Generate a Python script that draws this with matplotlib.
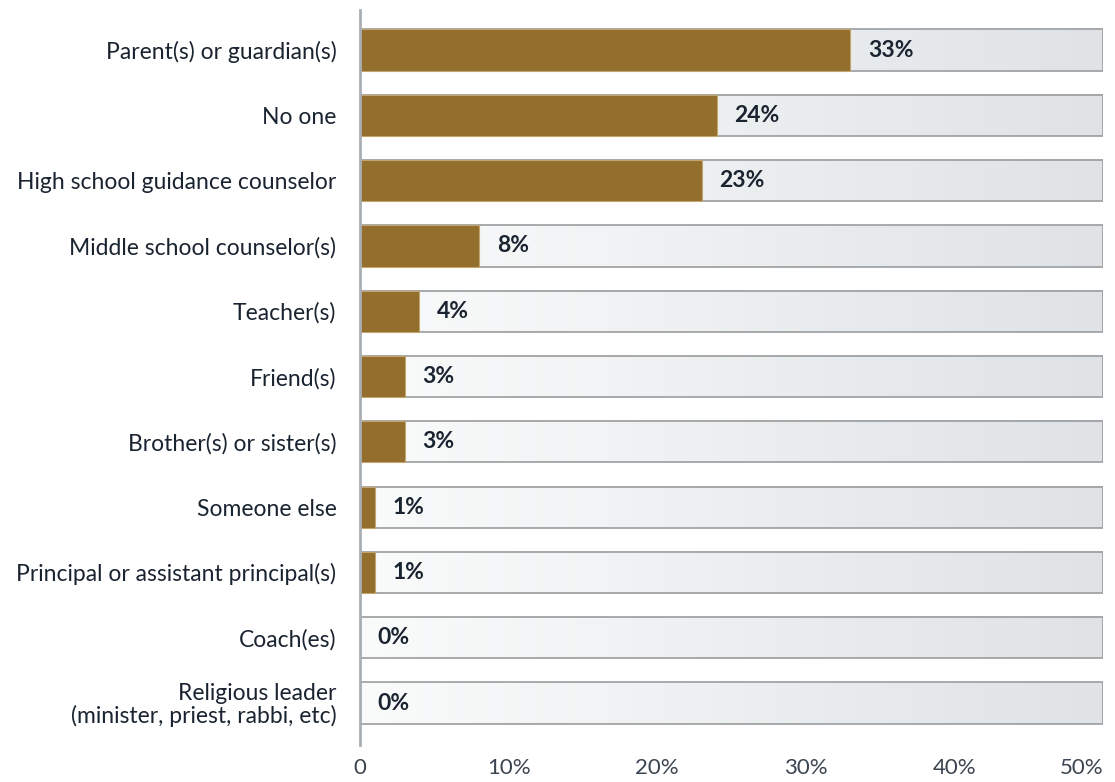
import numpy as np
import matplotlib.pyplot as plt
from matplotlib.colors import LinearSegmentedColormap

plt.rcParams['font.family'] = ['Lato', 'DejaVu Sans']

categories = [
    "Parent(s) or guardian(s)",
    "No one",
    "High school guidance counselor",
    "Middle school counselor(s)",
    "Teacher(s)",
    "Friend(s)",
    "Brother(s) or sister(s)",
    "Someone else",
    "Principal or assistant principal(s)",
    "Coach(es)",
    "Religious leader\n(minister, priest, rabbi, etc)",
]
values = [33, 24, 23, 8, 4, 3, 3, 1, 1, 0, 0]
x_ticks = [0, 10, 20, 30, 40, 50]
x_tick_labels = ["0", "10%", "20%", "30%", "40%", "50%"]
x_max = 50

text_color = "#1a2431"
bar_color = "#936e2d"
bar_h = 0.63

fig = plt.figure(figsize=(11.15, 7.82), dpi=100)
ax = fig.add_axes([0.3229, 0.0473, 0.6663, 0.9399])

# light grey gradient behind each bar
grad_cmap = LinearSegmentedColormap.from_list("bg", ["#fafbfb", "#dfe3e6"])
grad = np.linspace(0, 1, 256).reshape(1, -1)
for i in range(len(categories)):
    ax.imshow(grad, cmap=grad_cmap, aspect="auto", zorder=1,
              extent=(0, x_max, i + bar_h / 2, i - bar_h / 2))
ax.barh(range(len(categories)), [x_max] * len(categories), height=bar_h,
        facecolor="none", edgecolor="#9a9c9e", linewidth=1.2, zorder=2)

ax.barh(range(len(categories)), values, height=bar_h, color=bar_color,
        edgecolor="#c2a56f", linewidth=0.8, zorder=3)

for i, v in enumerate(values):
    ax.text(v + 1.2, i, f"{v}%", va="center", ha="left", fontsize=16.5,
            fontweight="bold", color=text_color, zorder=4)

ax.set_xlim(0, x_max)
ax.set_ylim(10.643, -0.613)
ax.set_yticks(range(len(categories)))
ax.set_yticklabels(categories, fontsize=16.5, color=text_color, linespacing=1.05)
ax.set_xticks(x_ticks)
ax.set_xticklabels(x_tick_labels, fontsize=16, color="#3b4551")
ax.get_xticklabels()[-1].set_horizontalalignment("right")
ax.tick_params(axis="both", length=0)
ax.tick_params(axis="y", pad=17)
ax.tick_params(axis="x", pad=9)

for side in ["top", "right", "bottom"]:
    ax.spines[side].set_visible(False)
ax.spines["left"].set_color("#a8afb4")
ax.spines["left"].set_linewidth(2)
ax.spines["left"].set_zorder(5)

fig.savefig("out.png", dpi=100)
